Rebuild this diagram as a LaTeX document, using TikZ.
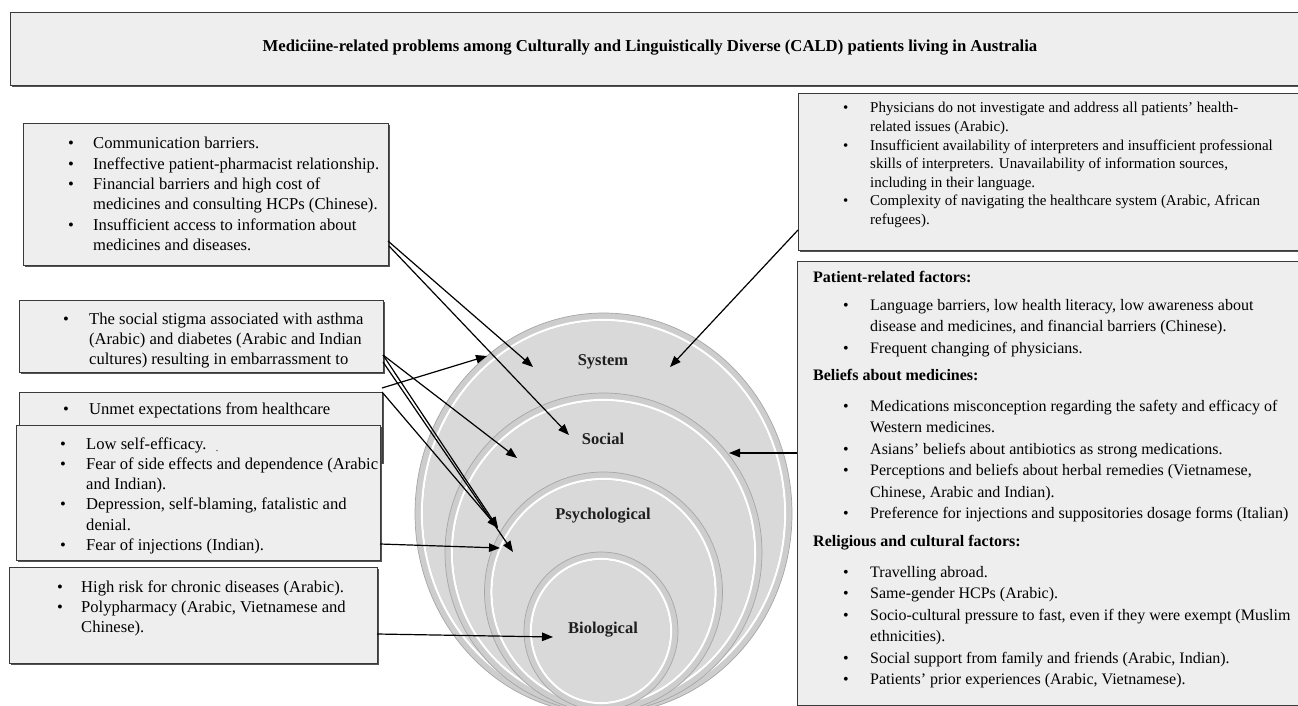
\documentclass[tikz,border=0pt]{standalone}
\usepackage{fontspec}
\setmainfont{Liberation Serif}
\usetikzlibrary{arrows.meta,shadows}
\definecolor{boxfill}{HTML}{EEEEEE}
\definecolor{boxline}{HTML}{3A3A3A}
\definecolor{circfill}{HTML}{D9D9D9}
\definecolor{ringband}{HTML}{CDCDCD}
\definecolor{ringedge}{HTML}{A6A6A6}
\newcommand{\blist}[2]{\begin{tabular}[t]{@{}p{#1}@{}l@{}}#2\end{tabular}}
\newcommand{\mydisk}[4]{%
  \fill[ringband] (#1,#2) ellipse [x radius=#3, y radius=#4];
  \draw[ringedge, line width=0.7pt] (#1,#2) ellipse [x radius=#3, y radius=#4];
  \draw[white, line width=2.2pt] (#1,#2) ellipse [x radius=#3-7, y radius=#4-7];
  \fill[circfill] (#1,#2) ellipse [x radius=#3-8.2, y radius=#4-8.2];
}
\begin{document}
\begin{tikzpicture}[x=1pt,y=-1pt,
  panel/.style={draw=boxline, line width=0.9pt, fill=boxfill, anchor=north west, inner sep=0pt,
    drop shadow={shadow xshift=1.4pt, shadow yshift=-1.4pt, fill=black!75, opacity=0.9}},
  ltxt/.style={anchor=base west, inner sep=0pt, font=\fontsize{16.6}{20.3}\selectfont},
  rtxt/.style={anchor=base west, inner sep=0pt, font=\fontsize{15}{18.6}\selectfont},
  r2txt/.style={anchor=base west, inner sep=0pt, font=\fontsize{16}{21.5}\selectfont},
  lbl/.style={font=\fontsize{16.5}{19}\selectfont\bfseries, text=black!88, inner sep=1pt},
  arr/.style={-{Triangle[length=11pt,width=8.5pt]}, line width=1.2pt}]
\useasboundingbox (0,0) rectangle (1298,706);
\clip (0,0) rectangle (1298,706);

% ---------- title ----------
\node[panel, minimum width=1290pt, minimum height=73pt] (titlebox) at (10,12) {};
\node[font=\fontsize{16.7}{19}\selectfont\bfseries] (title) at (650,48)
  {Mediciine-related problems among Culturally and Linguistically Diverse (CALD) patients living in Australia};

% ---------- circles ----------
\mydisk{603.5}{513.5}{188.5}{200.5}
\mydisk{603.5}{552.5}{158.5}{159.5}
\mydisk{603.5}{592}{119}{120}
\mydisk{601}{631}{77}{79}
\node[lbl] (sys) at (603,362) {System};
\node[lbl] (soc) at (603,439) {Social};
\node[lbl] (psy) at (603,516) {Psychological};
\node[lbl] (bio) at (603,630) {Biological};

% ---------- left boxes ----------
\node[panel, minimum width=365pt, minimum height=142pt] (b1) at (23,123) {};
\node[ltxt] (t1) at (68,149) {\blist{25pt}{%
\textbullet & Communication barriers.\\
\textbullet & Ineffective patient-pharmacist relationship.\\
\textbullet & Financial barriers and high cost of\\
 & medicines and consulting HCPs (Chinese).\\
\textbullet & Insufficient access to information about\\
 & medicines and diseases.}};

\node[panel, minimum width=364pt, minimum height=72pt] (b2) at (19,300) {};
\node[ltxt] (t2) at (63,324) {\blist{26pt}{%
\textbullet & The social stigma associated with asthma\\
 & (Arabic) and diabetes (Arabic and Indian\\
 & cultures) resulting in embarrassment to}};

\node[panel, minimum width=363pt, minimum height=70pt] (b3) at (19,392) {};
\node[ltxt] (t3) at (63,414) {\blist{26pt}{\textbullet & Unmet expectations from healthcare}};

\node[panel, minimum width=364pt, minimum height=135pt] (b4) at (16,425) {};
\node[ltxt] (t4) at (60,449) {\blist{26pt}{%
\textbullet & Low self-efficacy.\\
\textbullet & Fear of side effects and dependence (Arabic\\
 & and Indian).\\
\textbullet & Depression, self-blaming, fatalistic and\\
 & denial.\\
\textbullet & Fear of injections (Indian).}};
\node[font=\fontsize{10}{12}\selectfont, inner sep=0pt] (dot) at (217,451) {.};

\node[panel, minimum width=368pt, minimum height=96pt] (b5) at (9,567) {};
\node[ltxt] (t5) at (57,592) {\blist{24pt}{%
\textbullet & High risk for chronic diseases (Arabic).\\
\textbullet & Polypharmacy (Arabic, Vietnamese and\\
 & Chinese).}};

% ---------- right boxes ----------
\node[panel, minimum width=505pt, minimum height=157pt] (r1) at (798,93) {};
\node[rtxt] (rt1) at (843,113) {\blist{27pt}{%
\textbullet & Physicians do not investigate and address all patients’ health-\\
 & related issues (Arabic).\\
\textbullet & Insufficient availability of interpreters and insufficient professional\\
 & skills of interpreters. Unavailability of information sources,\\
 & including in their language.\\
\textbullet & Complexity of navigating the healthcare system (Arabic, African\\
 & refugees).}};

\node[panel, minimum width=505pt, minimum height=444pt] (r2) at (797,261) {};
\node[r2txt] (h1) at (813,282) {\textbf{Patient-related factors:}};
\node[r2txt] (g1) at (843,310) {\blist{27pt}{%
\textbullet & Language barriers, low health literacy, low awareness about\\
 & disease and medicines, and financial barriers (Chinese).\\
\textbullet & Frequent changing of physicians.}};
\node[r2txt] (h2) at (813,380) {\textbf{Beliefs about medicines:}};
\node[r2txt] (g2) at (843,411) {\blist{27pt}{%
\textbullet & Medications misconception regarding the safety and efficacy of\\
 & Western medicines.\\
\textbullet & Asians’ beliefs about antibiotics as strong medications.\\
\textbullet & Perceptions and beliefs about herbal remedies (Vietnamese,\\
 & Chinese, Arabic and Indian).\\
\textbullet & Preference for injections and suppositories dosage forms (Italian)}};
\node[r2txt] (h3) at (813,546) {\textbf{Religious and cultural factors:}};
\node[r2txt] (g3) at (843,577) {\blist{27pt}{%
\textbullet & Travelling abroad.\\
\textbullet & Same-gender HCPs (Arabic).\\
\textbullet & Socio-cultural pressure to fast, even if they were exempt (Muslim\\
 & ethnicities).\\
\textbullet & Social support from family and friends (Arabic, Indian).\\
\textbullet & Patients’ prior experiences (Arabic, Vietnamese).}};

% ---------- connector end points ----------
\coordinate (b1a) at (388,241);
\coordinate (b1b) at (389,246);
\coordinate (b2a) at (383,355);
\coordinate (b2b) at (383,362);
\coordinate (b3a) at (382,388);
\coordinate (b3b) at (382,392);
\coordinate (b4a) at (380,544);
\coordinate (b5a) at (377,634);
\coordinate (r1a) at (798,230);
\coordinate (r2a) at (797,453);
\coordinate (sysL) at (533,367);
\coordinate (sysE) at (487,356);
\coordinate (sysR) at (670,367);
\coordinate (socA) at (569,435);
\coordinate (socB) at (517,458);
\coordinate (socR) at (729,453);
\coordinate (psyA) at (498,528);
\coordinate (psyB) at (513,552);
\coordinate (psyC) at (500,548);
\coordinate (bioA) at (553,637);

% ---------- connectors ----------
\draw[arr] (b1a) -- (sysL);
\draw[arr] (b1b) -- (socA);
\draw[arr] (b2a) -- (socB);
\draw[arr] (b2a) -- (psyA);
\draw[arr] (b2b) -- (psyB);
\draw[arr] (b3a) -- (sysE);
\draw[arr] (b3b) -- (psyA);
\draw[arr] (b4a) -- (psyC);
\draw[arr] (b5a) -- (bioA);
\draw[arr] (r1a) -- (sysR);
\draw[arr] (r2a) -- (socR);
\end{tikzpicture}
\end{document}
